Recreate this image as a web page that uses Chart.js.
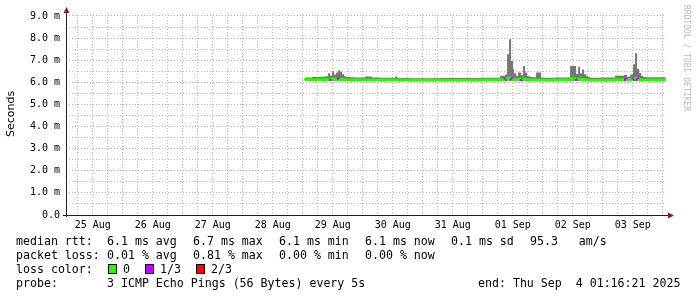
<!DOCTYPE html>
<html>
<head>
<meta charset="utf-8">
<script src="https://cdn.jsdelivr.net/npm/chart.js@4/dist/chart.umd.min.js"></script>
<style>
html, body { margin: 0; padding: 0; background: #fff; }
#wrap { position: relative; width: 697px; height: 297px; }
</style>
</head>
<body>
<div id="wrap"><canvas id="rrdChart" width="697" height="297"></canvas></div>
<script>
// hours since 25 Aug 00:00
const hours     = [96.9, 99.7, 102.9, 104.9, 106.1, 106.9, 107.7, 108.5, 109.3, 110.1, 110.9, 111.7, 112.5, 113.3, 114.9, 116.9, 120.9, 123.7, 124.5, 126.9, 132.9, 133.7, 134.9, 138.9, 150.9, 166.9, 174.9, 176.9, 177.7, 178.5, 179.3, 180.1, 180.5, 181.3, 182.1, 183.3, 184.1, 184.9, 185.7, 186.5, 187.7, 189.3, 191.3, 191.7, 196.9, 202.9, 205.3, 206.1, 206.9, 207.7, 208.5, 209.3, 210.1, 210.9, 214.9, 220.9, 224.5, 225.7, 226.9, 228.1, 228.9, 229.7, 230.5, 231.3, 232.1, 233.3, 236.9, 241.2];
// ms
const smokeMax  = [6.20, 6.22, 6.24, 6.25, 6.28, 6.41, 6.30, 6.50, 6.35, 6.45, 6.55, 6.48, 6.36, 6.28, 6.24, 6.23, 6.22, 6.26, 6.22, 6.22, 6.21, 6.26, 6.21, 6.20, 6.19, 6.20, 6.21, 6.30, 6.35, 7.27, 7.95, 6.97, 6.60, 6.40, 6.30, 6.45, 6.32, 6.74, 6.45, 6.30, 6.25, 6.23, 6.44, 6.22, 6.21, 6.22, 6.74, 6.38, 6.70, 6.40, 6.58, 6.36, 6.28, 6.24, 6.21, 6.22, 6.30, 6.33, 6.25, 6.35, 6.82, 7.32, 6.60, 6.42, 6.30, 6.24, 6.23, 6.23];
const smokeMin  = [6.08, 6.08, 6.08, 6.08, 6.08, 6.07, 6.08, 6.07, 6.08, 6.07, 6.07, 6.07, 6.08, 6.08, 6.08, 6.08, 6.08, 6.08, 6.08, 6.08, 6.08, 6.08, 6.08, 6.08, 6.08, 6.08, 6.08, 6.07, 6.07, 6.07, 6.07, 6.07, 6.08, 6.08, 6.08, 6.07, 6.08, 6.08, 6.08, 6.08, 6.08, 6.08, 6.08, 6.08, 6.08, 6.08, 6.07, 6.07, 6.07, 6.08, 6.08, 6.08, 6.08, 6.08, 6.08, 6.08, 6.08, 6.08, 6.08, 6.07, 6.07, 6.07, 6.08, 6.08, 6.08, 6.08, 6.08, 6.08];
const medianRtt = [6.11, 6.12, 6.12, 6.12, 6.13, 6.14, 6.13, 6.15, 6.12, 6.13, 6.16, 6.14, 6.12, 6.11, 6.11, 6.11, 6.11, 6.11, 6.11, 6.11, 6.11, 6.11, 6.11, 6.10, 6.10, 6.10, 6.11, 6.12, 6.13, 6.15, 6.20, 6.15, 6.13, 6.12, 6.12, 6.14, 6.12, 6.14, 6.12, 6.11, 6.11, 6.11, 6.11, 6.11, 6.10, 6.11, 6.15, 6.13, 6.14, 6.13, 6.13, 6.12, 6.11, 6.10, 6.10, 6.10, 6.12, 6.12, 6.11, 6.13, 6.14, 6.18, 6.14, 6.12, 6.11, 6.11, 6.11, 6.11];
// 0 = no loss, 1 = 1/3, 2 = 2/3
const lossLevel = [0, 0, 0, 0, 0, 1, 0, 0, 0, 1, 0, 0, 0, 0, 0, 0, 0, 0, 0, 0, 0, 0, 0, 0, 0, 0, 0, 1, 0, 0, 1, 0, 0, 0, 0, 1, 0, 0, 0, 0, 0, 0, 0, 0, 0, 0, 1, 0, 0, 0, 0, 0, 0, 0, 0, 0, 1, 0, 0, 1, 0, 1, 0, 0, 0, 0, 0, 0];

const dayLabels = ['25 Aug', '26 Aug', '27 Aug', '28 Aug', '29 Aug', '30 Aug', '31 Aug', '01 Sep', '02 Sep', '03 Sep'];
const yTickValues = [0, 0.5, 1, 1.5, 2, 2.5, 3, 3.5, 4, 4.5, 5, 5.5, 6, 6.5, 7, 7.5, 8, 8.5, 9];

const rttStats  = ['6.1 ms avg', '6.7 ms max', '6.1 ms min', '6.1 ms now', '0.1 ms sd', '95.3   am/s'];
const lossStats = ['0.01 % avg', '0.81 % max', '0.00 % min', '0.00 % now'];
const lossNames = ['0', '1/3', '2/3'];
const lossColors = ['#26ff00', '#c800ff', '#ff0000'];
const probeText = '3 ICMP Echo Pings (56 Bytes) every 5s';
const endText = 'end: Thu Sep  4 01:16:21 2025';

const majorGrid = 'rgba(222,79,79,0.55)';
const minorGrid = 'rgba(143,143,143,0.6)';
const monoFont = '"DejaVu Sans Mono", monospace';

function pts(values) {
    return values.map((v, i) => ({ x: hours[i], y: v }));
}

const rrdDecor = {
    id: 'rrdDecor',
    afterDraw(chart) {
        const c = chart.ctx;
        const a = chart.chartArea;
        c.save();

        // axes + arrows
        c.strokeStyle = '#1f1f1f';
        c.lineWidth = 1;
        c.beginPath();
        c.moveTo(a.left - 3, a.bottom + 0.5);
        c.lineTo(a.right + 3, a.bottom + 0.5);
        c.moveTo(a.left + 0.5, a.bottom + 2);
        c.lineTo(a.left + 0.5, a.top - 2);
        c.stroke();
        c.fillStyle = '#801f1f';
        c.beginPath();
        c.moveTo(a.left + 0.5 - 3, a.top - 1);
        c.lineTo(a.left + 0.5 + 3, a.top - 1);
        c.lineTo(a.left + 0.5, a.top - 7);
        c.closePath();
        c.fill();
        c.beginPath();
        c.moveTo(a.right + 2, a.bottom + 0.5 - 3);
        c.lineTo(a.right + 2, a.bottom + 0.5 + 3);
        c.lineTo(a.right + 8, a.bottom + 0.5);
        c.closePath();
        c.fill();

        // y title
        c.save();
        c.translate(11, 114);
        c.rotate(-Math.PI / 2);
        c.font = '11px "DejaVu Sans"';
        c.fillStyle = '#000';
        c.textAlign = 'center';
        c.textBaseline = 'middle';
        c.fillText('Seconds', 0, 0);
        c.restore();

        // watermark
        c.save();
        c.translate(686, 5);
        c.rotate(Math.PI / 2);
        c.font = '8px ' + monoFont;
        c.fillStyle = '#b8b8b8';
        c.textAlign = 'left';
        c.textBaseline = 'middle';
        c.fillText('RRDTOOL / TOBI OETIKER', 0, 0);
        c.restore();

        // legend block
        c.font = '11.6px ' + monoFont;
        c.fillStyle = '#000';
        c.textAlign = 'left';
        c.textBaseline = 'alphabetic';
        const cols = [107, 193, 279, 365, 451, 530];
        c.fillText('median rtt:', 16, 245);
        rttStats.forEach((t, i) => c.fillText(t, cols[i], 245));
        c.fillText('packet loss:', 16, 259);
        lossStats.forEach((t, i) => c.fillText(t, cols[i], 259));
        c.fillText('loss color:', 16, 273);
        const swX = [108, 145, 196];
        lossNames.forEach((t, i) => {
            c.fillStyle = lossColors[i];
            c.fillRect(swX[i] + 0.5, 264.5, 8, 9);
            c.strokeStyle = '#000';
            c.strokeRect(swX[i] + 0.5, 264.5, 8, 9);
            c.fillStyle = '#000';
            c.fillText(t, swX[i] + 15, 273);
        });
        c.fillText('probe:', 16, 287);
        c.fillText(probeText, 107, 287);
        c.fillText(endText, 478, 287);

        c.restore();
    }
};

const ctx = document.getElementById('rrdChart').getContext('2d');
new Chart(ctx, {
    type: 'line',
    data: {
        datasets: [
            {
                // drawn last, on top of the smoke
                label: 'median rtt',
                data: pts(medianRtt),
                borderColor: lossColors[0],
                borderWidth: 2.8,
                pointRadius: 0,
                stepped: 'after',
                fill: false,
                segment: {
                    borderColor: s => lossColors[lossLevel[s.p0DataIndex]]
                }
            },
            {
                label: 'smoke min',
                data: pts(smokeMin),
                borderColor: 'transparent',
                borderWidth: 0,
                pointRadius: 0,
                stepped: 'after',
                fill: false
            },
            {
                label: 'smoke',
                data: pts(smokeMax),
                borderColor: 'transparent',
                borderWidth: 0,
                pointRadius: 0,
                stepped: 'after',
                fill: '-1',
                backgroundColor: '#767676'
            }
        ]
    },
    options: {
        responsive: false,
        animation: false,
        events: [],
        layout: { padding: { left: 0, right: 31, top: 14, bottom: 62 } },
        plugins: {
            legend: { display: false },
            tooltip: { enabled: false }
        },
        scales: {
            x: {
                type: 'linear',
                min: 1.27,
                max: 241.27,
                afterBuildTicks: scale => {
                    const t = [];
                    for (let v = 6; v <= 240; v += 6) t.push({ value: v });
                    scale.ticks = t;
                },
                afterFit: scale => { scale.height = 20; },
                grid: {
                    color: c => (c.tick && c.tick.value % 24 === 0) ? majorGrid : minorGrid,
                    lineWidth: 1,
                    drawTicks: false
                },
                border: { display: false, dash: [1, 2] },
                ticks: {
                    autoSkip: false,
                    maxRotation: 0,
                    minRotation: 0,
                    padding: 4,
                    color: '#000',
                    font: { family: 'DejaVu Sans Mono', size: 10 },
                    callback: v => (v % 24 === 12) ? dayLabels[(v - 12) / 24] : ''
                }
            },
            y: {
                min: 0,
                max: 9.09,
                afterBuildTicks: scale => {
                    scale.ticks = yTickValues.map(v => ({ value: v }));
                },
                afterFit: scale => { scale.width = 66; },
                grid: {
                    color: c => (c.tick && Number.isInteger(c.tick.value)) ? majorGrid : minorGrid,
                    lineWidth: 1,
                    drawTicks: false
                },
                border: { display: false, dash: [1, 2] },
                ticks: {
                    autoSkip: false,
                    padding: 6,
                    color: '#000',
                    font: { family: 'DejaVu Sans Mono', size: 10 },
                    callback: v => Number.isInteger(v) ? (v === 0 ? '0.0' : v.toFixed(1) + ' m') : ''
                }
            }
        }
    },
    plugins: [rrdDecor]
});
</script>
</body>
</html>
